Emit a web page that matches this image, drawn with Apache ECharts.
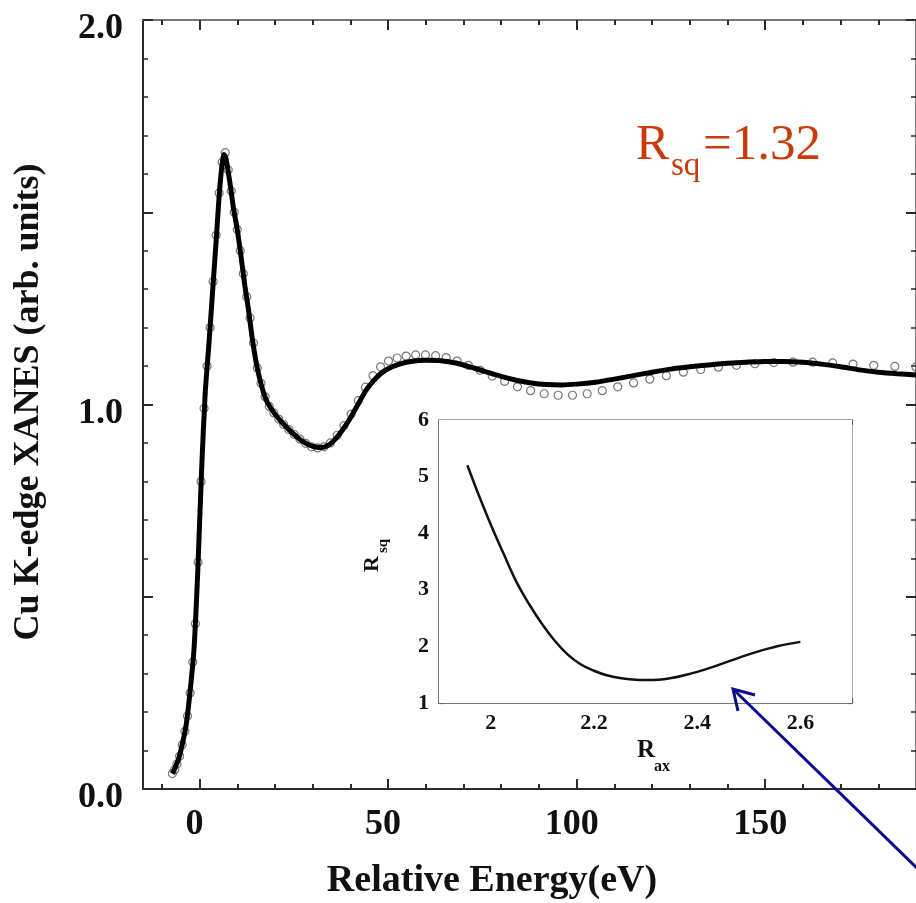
<!DOCTYPE html>
<html><head><meta charset="utf-8">
<script src="https://cdn.jsdelivr.net/npm/echarts@6/dist/echarts.min.js"></script>
<style>html,body{margin:0;padding:0;background:#fff}#c{width:916px;height:903px}</style>
</head><body><div id="c"></div>
<script>
// Experimental XANES points (open circles)
const expEnergy = [-7.2,-6.6,-6,-5.3,-4.6,-3.9,-3.2,-2.5,-1.8,-1.1,-0.4,0.4,1.2,2.0,2.8,3.6,4.4,5.2,6.0,6.8,7.6,8.4,9.2,10.0,10.8,11.6,12.5,13.4,14.3,15.3,16.3,17.4,18.5,19.7,21,22.3,23.7,25.1,26.6,28.1,29.7,31.3,33,34.7,36.5,38.3,40.2,42.1,44,46,48,50.1,52.4,54.8,57.3,59.9,62.6,65.4,68.3,71.3,74.4,77.6,80.9,84.3,87.8,91.4,95.1,98.9,102.8,106.8,110.9,115.1,119.4,123.8,128.3,132.9,137.6,142.4,147.3,152.3,157.4,162.6,167.9,173.3,178.8,184.4,190];
const expXanes  = [0.04,0.05,0.065,0.085,0.115,0.15,0.19,0.25,0.33,0.43,0.59,0.80,0.99,1.10,1.20,1.32,1.44,1.55,1.63,1.655,1.61,1.555,1.50,1.455,1.40,1.34,1.28,1.225,1.16,1.095,1.055,1.02,0.995,0.978,0.962,0.948,0.935,0.922,0.91,0.899,0.89,0.887,0.89,0.90,0.92,0.945,0.975,1.01,1.045,1.075,1.098,1.113,1.121,1.126,1.129,1.129,1.127,1.122,1.113,1.102,1.089,1.074,1.06,1.046,1.036,1.028,1.024,1.024,1.028,1.036,1.046,1.056,1.066,1.075,1.084,1.091,1.097,1.102,1.106,1.109,1.11,1.11,1.108,1.105,1.102,1.099,1.097];
// Fitted XANES curve (thick line)
const fitEnergy = [-7.2,-6.5,-5.5,-4.5,-3.5,-2.5,-1.5,-0.5,0.5,1.5,2.5,3.5,4.5,5.5,6.5,7,8,9,10,11,12,13,14,15,16,17,18,20,22,24,26,28,30,32,34,36,38,40,42,44,46,48,50,53,56,60,64,68,72,76,80,84,88,92,96,100,105,110,115,120,125,130,135,140,145,150,155,160,165,170,175,180,185,190];
const fitXanes  = [0.04,0.055,0.08,0.12,0.17,0.255,0.36,0.56,0.82,1.03,1.16,1.30,1.44,1.58,1.65,1.64,1.58,1.51,1.455,1.385,1.31,1.245,1.17,1.11,1.065,1.03,1.005,0.975,0.952,0.932,0.914,0.90,0.891,0.888,0.893,0.91,0.935,0.965,1.0,1.035,1.06,1.08,1.093,1.105,1.112,1.115,1.114,1.108,1.097,1.085,1.073,1.063,1.056,1.052,1.051,1.053,1.058,1.066,1.075,1.084,1.092,1.098,1.103,1.107,1.11,1.112,1.112,1.11,1.105,1.098,1.09,1.084,1.08,1.077];
// Inset: R_sq vs R_ax
const insetRax = [1.955,1.975,2.0,2.025,2.05,2.075,2.1,2.125,2.15,2.175,2.2,2.225,2.25,2.275,2.3,2.325,2.35,2.375,2.4,2.425,2.45,2.475,2.5,2.525,2.55,2.575,2.6];
const insetRsq = [5.2,4.72,4.16,3.64,3.14,2.74,2.39,2.09,1.85,1.68,1.57,1.49,1.44,1.415,1.405,1.41,1.44,1.49,1.55,1.62,1.70,1.78,1.86,1.93,1.99,2.04,2.08];
// Tick values / labels
const mainXMajorTicks = [0,50,100,150];
const mainXMinorTicks = [-10,10,20,30,40,60,70,80,90,110,120,130,140,160,170,180];
const mainYLabels = [0,1,2];
const insetXLabels = [2,2.2,2.4,2.6];

const serif = '"Liberation Serif","Times New Roman",serif';
const chart = echarts.init(document.getElementById('c'), null, {renderer:'canvas'});

const zip = (a,b)=>a.map((v,i)=>[v,b[i]]);
const dark = '#2a2a2a';

function mainX(pos, major, showLine, showLabel, lineColor){
  return {
    gridIndex:0, type:'value', min:-15, max:190, position:pos,
    axisLine:{show:showLine, onZero:false, lineStyle:{color:lineColor, width:2}},
    axisTick:{show:true, inside:true, length: major?10:5, customValues: major?mainXMajorTicks:mainXMinorTicks, lineStyle:{color:dark, width:2}},
    axisLabel:{show:showLabel, customValues: mainXMajorTicks, fontFamily:serif, fontWeight:'bold', fontSize:36, color:'#111', margin:18, padding:[0,10,0,0]},
    splitLine:{show:false}
  };
}
function mainY(pos, showLabel, lineColor){
  return {
    gridIndex:0, type:'value', min:0, max:2, interval:0.5, position:pos,
    axisLine:{show:true, onZero:false, lineStyle:{color:lineColor, width:2}},
    axisTick:{show:true, inside:true, length:10, lineStyle:{color:dark, width:2}},
    minorTick:{show:true, splitNumber:5, length:5, lineStyle:{color:dark, width:1.5}},
    axisLabel:{show:showLabel, fontFamily:serif, fontWeight:'bold', fontSize:36, color:'#111', margin:20,
      verticalAlign:'top', lineHeight:18,
      formatter:v=> mainYLabels.some(t=>Math.abs(t-v)<1e-6) ? v.toFixed(1) : ''},
    splitLine:{show:false}, minorSplitLine:{show:false}
  };
}
function insetX(pos, showLabel, lineColor){
  return {
    gridIndex:1, type:'value', min:1.9, max:2.7, interval:0.1, position:pos,
    axisLine:{show:true, onZero:false, lineStyle:{color:lineColor, width:2}},
    axisTick:{show:true, inside:true, length:5, lineStyle:{color:'#666', width:1.2}},
    minorTick:{show:true, splitNumber:2, length:4, lineStyle:{color:'#666', width:1.2}},
    axisLabel:{show:showLabel, fontFamily:serif, fontWeight:'bold', fontSize:22, color:'#111', margin:9,
      formatter:v=> insetXLabels.some(t=>Math.abs(t-v)<1e-6) ? String(Math.round(v*10)/10) : ''},
    splitLine:{show:false}
  };
}
function insetY(pos, showLabel, lineColor){
  return {
    gridIndex:1, type:'value', min:1, max:6, interval:1, position:pos,
    axisLine:{show:true, onZero:false, lineStyle:{color:lineColor, width:2}},
    axisTick:{show:true, inside:true, length:5, lineStyle:{color:'#666', width:1.2}},
    minorTick:{show:true, splitNumber:2, length:4, lineStyle:{color:'#666', width:1.2}},
    axisLabel:{show:showLabel, fontFamily:serif, fontWeight:'bold', fontSize:22, color:'#111', margin:10},
    splitLine:{show:false}
  };
}

const txt = (x,y,text,size,opts={}) => Object.assign({
  type:'text', x, y, z:100,
  style:Object.assign({text, fontFamily:serif, fontSize:size, fontWeight:'bold', fill:'#111', align:'left', verticalAlign:'middle'}, opts.style||{})
}, opts.el||{});

const option = {
  animation:false,
  backgroundColor:'#fff',
  grid:[
    {left:143, top:20, width:779, height:769, containLabel:false},
    {left:439, top:420, width:413, height:283, containLabel:false, show:true, backgroundColor:'#fff', borderWidth:0, z:5}
  ],
  xAxis:[
    mainX('bottom', true, true, true, dark),
    mainX('bottom', false, false, false, dark),
    mainX('top', true, true, false, '#777'),
    mainX('top', false, false, false, '#777'),
    insetX('bottom', true, '#777'),
    insetX('top', false, '#aaa')
  ],
  yAxis:[
    mainY('left', true, dark),
    mainY('right', false, '#777'),
    insetY('left', true, '#777'),
    insetY('right', false, '#aaa')
  ],
  series:[
    {type:'scatter', xAxisIndex:0, yAxisIndex:0, data:zip(expEnergy, expXanes), symbol:'circle', symbolSize:8,
     itemStyle:{color:'rgba(255,255,255,0)', borderColor:'#555', borderWidth:1.2}, z:2, silent:true},
    {type:'line', xAxisIndex:0, yAxisIndex:0, data:zip(fitEnergy, fitXanes), showSymbol:false, smooth:0.25,
     lineStyle:{color:'#000', width:5}, z:3, silent:true},
    {type:'line', xAxisIndex:4, yAxisIndex:2, data:zip(insetRax, insetRsq), showSymbol:false, smooth:0.4,
     lineStyle:{color:'#111', width:2.5}, z:6, silent:true}
  ],
  graphic:[
    txt(29, 402, 'Cu K-edge XANES (arb. units)', 36, {style:{align:'center'}, el:{rotation:Math.PI/2}}),
    txt(492, 881, 'Relative Energy(eV)', 38, {style:{align:'center'}}),
    txt(636, 146, 'R', 50, {style:{fontWeight:'normal', fill:'#c83c0c'}}),
    txt(671, 166, 'sq', 33, {style:{fontWeight:'normal', fill:'#c83c0c'}}),
    txt(703, 146, '=1.32', 51, {style:{fontWeight:'normal', fill:'#c83c0c'}}),
    txt(637, 751, 'R', 25),
    txt(654, 767, 'ax', 16),
    txt(372, 564, 'R', 22, {style:{align:'center'}, el:{rotation:Math.PI/2}}),
    txt(383, 546, 'sq', 15, {style:{align:'center'}, el:{rotation:Math.PI/2}}),
    {type:'polyline', z:100, shape:{points:[[920,871],[733,689]]}, style:{stroke:'#0b0b8f', lineWidth:3, fill:null}},
    {type:'polyline', z:100, shape:{points:[[755,695],[733,689],[738,711]]}, style:{stroke:'#0b0b8f', lineWidth:3, fill:null}}
  ]
};
chart.setOption(option);
</script></body></html>
